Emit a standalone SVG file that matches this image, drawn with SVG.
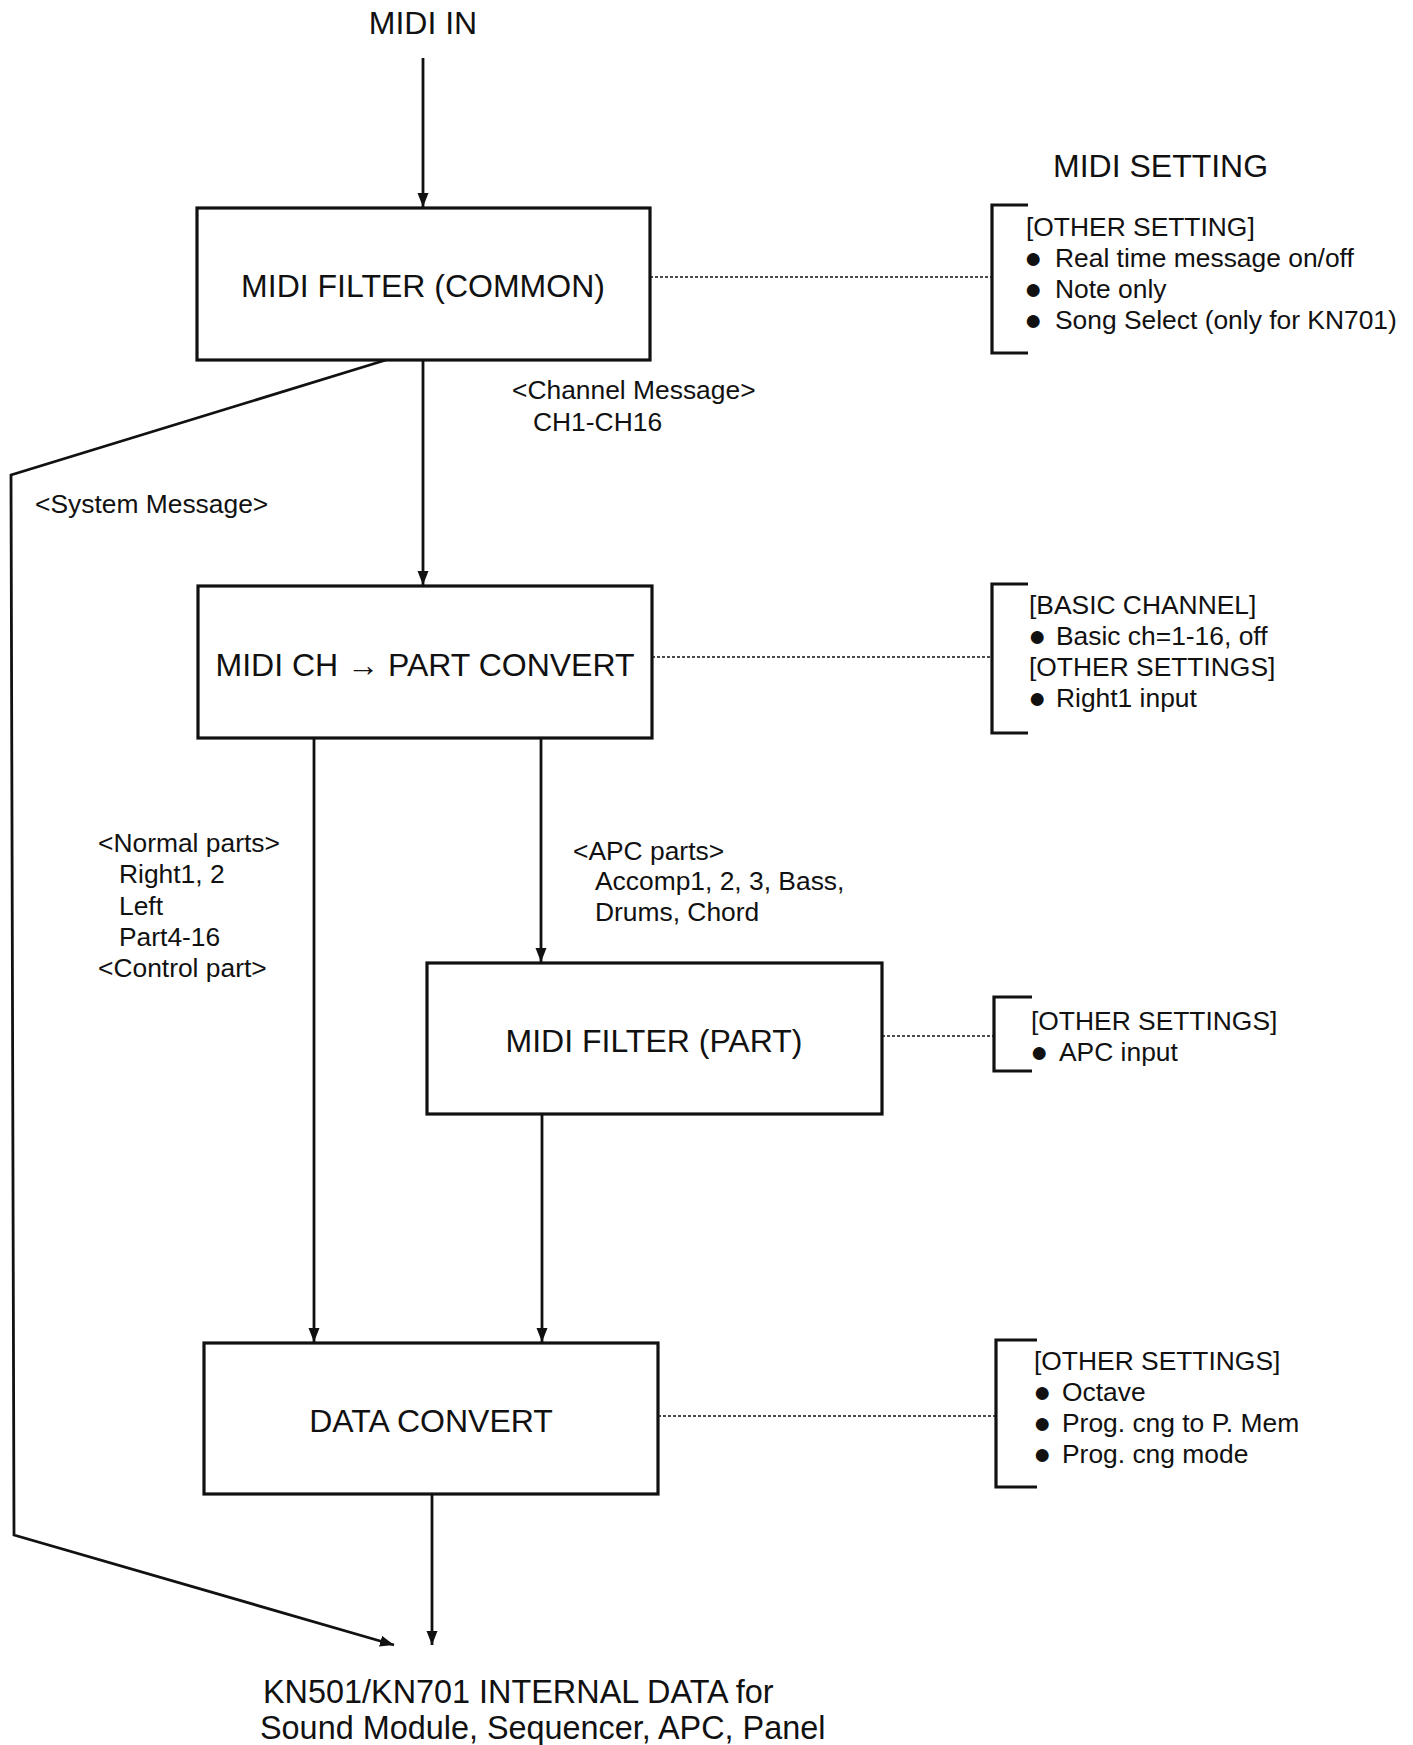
<svg xmlns="http://www.w3.org/2000/svg" width="1413" height="1745" viewBox="0 0 1413 1745">
<style>
text{font-family:"Liberation Sans",Arial,sans-serif;fill:#111}
.big{font-size:32px}
.sm{font-size:26.4px}
.bul{font-size:30px}
.mid{text-anchor:middle}
.box{fill:#fff;stroke:#111;stroke-width:3.2}
.ln{fill:none;stroke:#111;stroke-width:2.8}
.dot{fill:none;stroke:#111;stroke-width:1.4;stroke-dasharray:3,2}
.br{fill:none;stroke:#111;stroke-width:3.2}
</style>
<defs>
<marker id="ah" markerUnits="userSpaceOnUse" markerWidth="16" markerHeight="12" refX="14" refY="5.5" orient="auto">
<path d="M0,0 L14,5.5 L0,11 z" fill="#111"/>
</marker>
</defs>
<rect width="1413" height="1745" fill="#fff"/>
<g id="connectors">
<line class="ln" x1="423" y1="58" x2="423" y2="207" marker-end="url(#ah)"/>
<line class="ln" x1="423" y1="360" x2="423" y2="585" marker-end="url(#ah)"/>
<polyline class="ln" points="386,360 11,475 14,1535 394,1645" marker-end="url(#ah)"/>
<line class="ln" x1="314" y1="738" x2="314" y2="1342" marker-end="url(#ah)"/>
<line class="ln" x1="541" y1="738" x2="541" y2="962" marker-end="url(#ah)"/>
<line class="ln" x1="542" y1="1114" x2="542" y2="1342" marker-end="url(#ah)"/>
<line class="ln" x1="432" y1="1494" x2="432" y2="1645" marker-end="url(#ah)"/>
<line class="dot" x1="650" y1="277" x2="992" y2="277"/>
<line class="dot" x1="652" y1="657" x2="992" y2="657"/>
<line class="dot" x1="882" y1="1036" x2="994" y2="1036"/>
<line class="dot" x1="658" y1="1416" x2="996" y2="1416"/>
</g>
<g id="midi-in"><text class="big mid" x="423" y="34">MIDI IN</text></g>
<g id="midi-setting"><text class="big" x="1053" y="177">MIDI SETTING</text></g>
<g id="filter-common">
<rect class="box" x="197" y="208" width="453" height="152"/>
<text class="big mid" x="423" y="297">MIDI FILTER (COMMON)</text>
</g>
<g id="ch-part-convert">
<rect class="box" x="198" y="586" width="454" height="152"/>
<text class="big mid" x="425" y="676">MIDI CH → PART CONVERT</text>
</g>
<g id="filter-part">
<rect class="box" x="427" y="963" width="455" height="151"/>
<text class="big mid" x="654" y="1052">MIDI FILTER (PART)</text>
</g>
<g id="data-convert">
<rect class="box" x="204" y="1343" width="454" height="151"/>
<text class="big mid" x="431" y="1432">DATA CONVERT</text>
</g>
<g id="setting-common">
<path class="br" d="M1028,205 H992 V353 H1028"/>
<text class="sm" x="1026" y="236">[OTHER SETTING]</text>
<text class="bul mid" x="1033" y="268">●</text><text class="sm" x="1055" y="267">Real time message on/off</text>
<text class="bul mid" x="1033" y="299">●</text><text class="sm" x="1055" y="298">Note only</text>
<text class="bul mid" x="1033" y="330">●</text><text class="sm" x="1055" y="329">Song Select (only for KN701)</text>
</g>
<g id="setting-channel">
<path class="br" d="M1028,584 H992 V733 H1028"/>
<text class="sm" x="1029" y="614">[BASIC CHANNEL]</text>
<text class="bul mid" x="1037" y="646">●</text><text class="sm" x="1056" y="645">Basic ch=1-16, off</text>
<text class="sm" x="1029" y="676">[OTHER SETTINGS]</text>
<text class="bul mid" x="1037" y="708">●</text><text class="sm" x="1056" y="707">Right1 input</text>
</g>
<g id="setting-part">
<path class="br" d="M1032,997 H994 V1071 H1032"/>
<text class="sm" x="1031" y="1030">[OTHER SETTINGS]</text>
<text class="bul mid" x="1039" y="1062">●</text><text class="sm" x="1059" y="1061">APC input</text>
</g>
<g id="setting-data">
<path class="br" d="M1037,1340 H996 V1487 H1037"/>
<text class="sm" x="1034" y="1370">[OTHER SETTINGS]</text>
<text class="bul mid" x="1042" y="1402">●</text><text class="sm" x="1062" y="1401">Octave</text>
<text class="bul mid" x="1042" y="1433">●</text><text class="sm" x="1062" y="1432">Prog. cng to P. Mem</text>
<text class="bul mid" x="1042" y="1464">●</text><text class="sm" x="1062" y="1463">Prog. cng mode</text>
</g>
<g id="labels">
<text class="sm" x="512" y="399">&lt;Channel Message&gt;</text>
<text class="sm" x="533" y="431">CH1-CH16</text>
<text class="sm" x="35" y="513">&lt;System Message&gt;</text>
<text class="sm" x="98" y="852">&lt;Normal parts&gt;</text>
<text class="sm" x="119" y="883">Right1, 2</text>
<text class="sm" x="119" y="915">Left</text>
<text class="sm" x="119" y="946">Part4-16</text>
<text class="sm" x="98" y="977">&lt;Control part&gt;</text>
<text class="sm" x="573" y="860">&lt;APC parts&gt;</text>
<text class="sm" x="595" y="890">Accomp1, 2, 3, Bass,</text>
<text class="sm" x="595" y="921">Drums, Chord</text>
</g>
<g id="output">
<text class="big" x="263" y="1703" style="font-size:32.4px">KN501/KN701 INTERNAL DATA for</text>
<text class="big" x="260" y="1739" style="font-size:32.4px">Sound Module, Sequencer, APC, Panel</text>
</g>
</svg>
